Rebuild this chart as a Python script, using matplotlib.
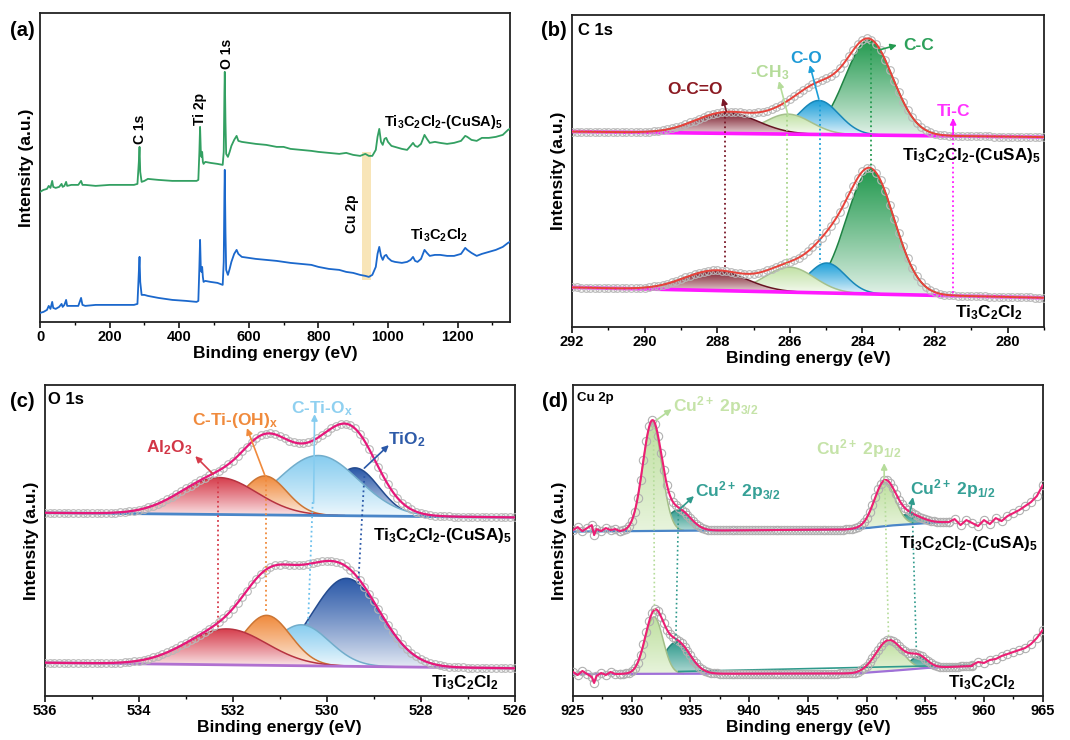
import numpy as np
import matplotlib
matplotlib.use('Agg')
import matplotlib.pyplot as plt
from matplotlib.colors import to_rgb
from matplotlib.ticker import MultipleLocator
from matplotlib.path import Path

plt.rcParams['font.family'] = ['Liberation Sans', 'DejaVu Sans']
plt.rcParams['font.weight'] = 'bold'
plt.rcParams['axes.labelweight'] = 'bold'
plt.rcParams['mathtext.fontset'] = 'custom'
plt.rcParams['mathtext.rm'] = 'Liberation Sans:bold'
plt.rcParams['mathtext.bf'] = 'Liberation Sans:bold'
plt.rcParams['mathtext.it'] = 'Liberation Sans:bold'

# ---------------- DATA ----------------
# (a) survey spectra (arbitrary intensity units)
survey_x = [0, 10, 20, 25, 30, 35, 38, 45, 55, 62, 65, 70, 75, 78, 90, 110, 118, 122, 130, 160,
            200, 240, 270, 280, 284, 286, 288, 292, 300, 310, 340, 380, 420, 450, 455, 458, 460,
            462, 464, 466, 468, 470, 475, 490, 510, 525, 528, 530, 531, 533, 535, 540, 545, 550,
            558, 565, 570, 580, 600, 620, 650, 680, 700, 720, 750, 780, 800, 830, 860, 880, 900,
            920, 935, 945, 955, 965, 970, 975, 980, 985, 990, 995, 1000, 1010, 1020, 1040, 1055,
            1065, 1072, 1078, 1085, 1095, 1105, 1112, 1120, 1135, 1150, 1170, 1190, 1210, 1222,
            1228, 1240, 1255, 1270, 1290, 1310, 1330, 1345, 1350]
survey_cusa = [130, 132, 133, 136, 134, 141, 135, 134, 135, 138, 135, 136, 140, 136, 137, 137, 141,
               137, 137, 136, 137, 137, 137, 138, 160, 175, 150, 140, 141, 143, 142, 141, 141, 141,
               142, 170, 195, 172, 165, 170, 160, 158, 160, 159, 158, 157, 170, 230, 250, 200, 168,
               165, 170, 176, 182, 186, 181, 180, 179, 178, 177, 175, 175, 173, 172, 171, 170, 169,
               168, 169, 167, 166, 168, 166, 166, 172, 185, 193, 180, 177, 183, 184, 180, 176, 175,
               173, 172, 176, 179, 176, 175, 178, 187, 183, 179, 180, 179, 178, 179, 181, 186, 185,
               182, 181, 184, 184, 185, 187, 192, 193]
survey_bare = [9, 10, 12, 16, 13, 20, 14, 13, 15, 18, 15, 17, 22, 16, 16, 16, 24, 17, 16, 17,
               17, 17, 17, 18, 50, 65, 40, 27, 27, 26, 24, 22, 21, 20, 21, 55, 82, 55, 50, 55, 45,
               40, 41, 40, 39, 37, 60, 130, 152, 90, 52, 47, 53, 60, 68, 72, 68, 65, 64, 63, 62, 61,
               60, 59, 58, 57, 55, 53, 52, 50, 49, 47, 46, 45, 47, 55, 68, 75, 66, 62, 66, 67, 64,
               61, 60, 59, 60, 62, 65, 61, 60, 63, 72, 69, 66, 67, 67, 66, 66, 68, 74, 72, 69, 66,
               68, 70, 72, 75, 79, 80]
cu_band_x = [926, 951]
cu_band_y = [42, 170]

# (b) C 1s fitted components: O-C=O, -CH3, C-O, C-C
c1s_colors = ['#7a1828', '#c2e2a6', '#1c9fd9', '#249a50']
c1s_top_center = [287.75, 286.05, 285.2, 283.82]
c1s_top_height = [21, 20, 34, 95]
c1s_top_fwhm = [2.0, 1.5, 1.3, 1.55]
c1s_bot_center = [288.05, 286.0, 284.98, 283.78]
c1s_bot_height = [20, 25, 30, 124]
c1s_bot_fwhm = [2.0, 1.6, 1.2, 1.55]
c1s_base_x = [292, 279]
c1s_top_base = [195.5, 190.0]
c1s_bot_base = [39.7, 29.3]

# (c) O 1s fitted components: Al2O3, C-Ti-(OH)x, C-Ti-Ox, TiO2
o1s_colors = ['#d63c4b', '#f08a3c', '#86ccef', '#2a58a8']
o1s_top_center = [532.3, 531.32, 530.18, 529.4]
o1s_top_height = [37, 39, 60, 48]
o1s_top_fwhm = [1.9, 1.1, 2.0, 1.2]
o1s_bot_center = [532.13, 531.28, 530.54, 529.58]
o1s_bot_height = [36, 50, 41, 88]
o1s_bot_fwhm = [2.0, 1.2, 1.4, 1.7]
o1s_base_x = [536, 526]
o1s_top_base = [183.3, 178.7]
o1s_bot_base = [33.3, 27.7]

# (d) Cu 2p fitted components: 2p3/2, 2p3/2 (second), 2p1/2, 2p1/2 (second)
cu_colors = ['#bfe0a0', '#2f9a8c', '#bfe0a0', '#2f9a8c']
cu_top_center = [931.75, 933.98, 951.54, 953.5]
cu_top_height = [109, 21, 44, 10]
cu_top_fwhm = [1.9, 2.4, 2.1, 2.6]
cu_bot_center = [931.9, 933.84, 951.9, 954.4]
cu_bot_height = [57, 32, 31, 12]
cu_bot_fwhm = [1.8, 2.6, 2.6, 1.8]
cu_top_base_x = [925, 948, 950, 952, 955, 957]
cu_top_base_y = [164.5, 166.5, 168, 170.5, 173, 174]
cu_bot_base_x = [925, 949, 952, 955, 959]
cu_bot_base_y = [22, 22.5, 25, 28, 30]
cu_top_raw_left_x = [925.0, 925.4, 925.8, 926.2, 926.6, 926.8, 927.0, 927.4, 927.8, 928.2, 928.6, 929.0]
cu_top_raw_left_y = [166, 169, 165, 168, 171, 161, 167, 165, 168, 166, 167, 165]
cu_top_raw_right_x = [957.0, 957.5, 958.0, 958.5, 959.0, 959.5, 960.0, 960.5, 961.0, 961.5, 962.0,
                      962.5, 963.0, 963.5, 964.0, 964.5, 965.0]
cu_top_raw_right_y = [174, 177, 171, 176, 173, 170, 176, 172, 178, 175, 180, 183, 186, 190, 194, 200, 211]
cu_bot_raw_left_x = [925.0, 925.4, 925.8, 926.2, 926.6, 926.8, 927.0, 927.4, 927.8, 928.2, 928.6, 929.0]
cu_bot_raw_left_y = [24, 21, 25, 22, 19, 13, 20, 23, 21, 24, 22, 22]
cu_bot_raw_right_x = [959.0, 959.5, 960.0, 960.5, 961.0, 961.5, 962.0, 962.5, 963.0, 963.5, 964.0, 964.5, 965.0]
cu_bot_raw_right_y = [31, 34, 33, 36, 37, 40, 42, 44, 46, 48, 52, 58, 66]
cu_bot_teal_x = [934, 959]
cu_bot_teal_y = [24.5, 31]

# ---------------- HELPERS ----------------
def gauss(x, c, h, w):
    return h * np.exp(-4 * np.log(2) * (x - c) ** 2 / w ** 2)

def grad_fill(ax, x, base, top, color, z, lo=0.08):
    rgb = np.array(to_rgb(color))
    n = 200
    f = np.linspace(lo, 1.0, n) ** 0.85
    img = (1 - f)[:, None, None] + f[:, None, None] * rgb[None, None, :]
    img = np.repeat(img, 2, axis=1)
    im = ax.imshow(img, extent=[x.min(), x.max(), base.min(), top.max()], origin='lower',
                   aspect='auto', zorder=z, interpolation='bilinear')
    verts = np.concatenate([np.column_stack([x, top]), np.column_stack([x[::-1], base[::-1]])])
    im.set_clip_path(Path(verts), transform=ax.transData)
    ax.plot(x, top, color=rgb * 0.85, lw=1.1, zorder=z + 0.1)

def draw_fit(ax, x, base, centers, heights, widths, colors, order, lo=0.08):
    env = base.copy()
    for c, h, w in zip(centers, heights, widths):
        env = env + gauss(x, c, h, w)
    for k, i in enumerate(order):
        comp = gauss(x, centers[i], heights[i], widths[i])
        m = comp > 0.004 * heights[i]
        grad_fill(ax, x[m], base[m], base[m] + comp[m], colors[i], 2 + k * 0.5, lo)
    return env

def arrow(ax, start, end, color):
    ax.annotate('', xy=end, xytext=start,
                arrowprops=dict(arrowstyle='-|>', color=color, lw=1.2, mutation_scale=9,
                                shrinkA=0, shrinkB=0), zorder=8)

def style(ax, xlim, ylim, major, minor):
    ax.set_xlim(*xlim)
    ax.set_ylim(*ylim)
    ax.set_yticks([])
    ax.xaxis.set_major_locator(MultipleLocator(major))
    ax.xaxis.set_minor_locator(MultipleLocator(minor))
    ax.tick_params(axis='x', which='major', direction='out', length=4, width=1.1,
                   labelsize=10.5, pad=2)
    ax.tick_params(axis='x', which='minor', direction='out', length=2.5, width=1)
    for lab in ax.get_xticklabels():
        lab.set_fontweight('bold')
    for s in ax.spines.values():
        s.set_linewidth(1.3)
        s.set_color('#222222')
    ax.set_xlabel('Binding energy (eV)', fontsize=12.5, labelpad=1)
    ax.set_ylabel('Intensity (a.u.)', fontsize=12.5, labelpad=4)

L_CUSA = r'Ti$_\mathbf{3}$C$_\mathbf{2}$Cl$_\mathbf{2}$-(CuSA)$_\mathbf{5}$'
L_BARE = r'Ti$_\mathbf{3}$C$_\mathbf{2}$Cl$_\mathbf{2}$'

fig = plt.figure(figsize=(10.7, 7.4), dpi=100)
ax_a = fig.add_axes([0.0374, 0.565, 0.439, 0.4176])
ax_b = fig.add_axes([0.5346, 0.558, 0.441, 0.4216])
ax_c = fig.add_axes([0.042, 0.0595, 0.439, 0.42])
ax_d = fig.add_axes([0.5355, 0.0595, 0.439, 0.42])

fig.text(0.009, 0.959, '(a)', fontsize=14.5, fontweight='bold', va='center')
fig.text(0.5056, 0.959, '(b)', fontsize=14.5, fontweight='bold', va='center')
fig.text(0.009, 0.457, '(c)', fontsize=14.5, fontweight='bold', va='center')
fig.text(0.5065, 0.457, '(d)', fontsize=14.5, fontweight='bold', va='center')

# ---------------- (a) ----------------
ax = ax_a
ax.fill_between(cu_band_x, cu_band_y[0], cu_band_y[1], color='#f7dfa6', alpha=0.8, lw=0, zorder=1)
ax.plot(survey_x, survey_cusa, color='#33a062', lw=1.3, zorder=3)
ax.plot(survey_x, survey_bare, color='#1b68cc', lw=1.3, zorder=3)
ax.text(287, 178, 'C 1s', rotation=90, ha='center', va='bottom', fontsize=10)
ax.text(459, 197, 'Ti 2p', rotation=90, ha='center', va='bottom', fontsize=10)
ax.text(536, 253, 'O 1s', rotation=90, ha='center', va='bottom', fontsize=10)
ax.text(897, 108, 'Cu 2p', rotation=90, ha='center', va='center', fontsize=10)
ax.text(990, 200, L_CUSA, ha='left', va='center', fontsize=10.5)
ax.text(1064, 87, L_BARE, ha='left', va='center', fontsize=10.5)
style(ax, (0, 1350), (0, 309), 200, 100)

# ---------------- (b) ----------------
ax = ax_b
xb = np.linspace(279, 292, 521)
for centers, heights, widths, bvals in [
        (c1s_top_center, c1s_top_height, c1s_top_fwhm, c1s_top_base),
        (c1s_bot_center, c1s_bot_height, c1s_bot_fwhm, c1s_bot_base)]:
    base = np.interp(xb, c1s_base_x[::-1], bvals[::-1])
    env = draw_fit(ax, xb, base, centers, heights, widths, c1s_colors, [3, 2, 1, 0])
    ax.plot(xb, base, color='#ff19ff', lw=2.6, zorder=4)
    ax.plot(xb[::5], env[::5], 'o', mfc='none', mec='#b8b8b8', ms=5.5, mew=0.8, zorder=5)
    ax.plot(xb, env, color='#e8423a', lw=1.4, zorder=6)
ax.plot([287.78, 287.78], [215, 58.7], ls=':', color='#7a1828', lw=1.3, zorder=7)
ax.plot([286.07, 286.07], [212, 61], ls=':', color='#a8d48a', lw=1.3, zorder=7)
ax.plot([285.18, 285.18], [227, 64], ls=':', color='#1c9fd9', lw=1.3, zorder=7)
ax.plot([283.75, 283.75], [283, 157], ls=':', color='#249a50', lw=1.3, zorder=7)
ax.plot([281.5, 281.5], [208, 30], ls=':', color='#ff19ff', lw=1.3, zorder=7)
arrow(ax, (287.75, 216), (287.85, 229), '#7a1828')
arrow(ax, (286.05, 212), (286.3, 246), '#b5dc9a')
arrow(ax, (285.2, 228), (285.45, 262), '#1c9fd9')
arrow(ax, (283.55, 277), (283.05, 282), '#249a50')
arrow(ax, (281.5, 193), (281.5, 209), '#ff19ff')
ax.text(288.6, 238, 'O-C=O', color='#8b1a22', ha='center', va='center', fontsize=12.5, zorder=9)
ax.text(286.55, 254, r'-CH$_\mathbf{3}$', color='#b5dc9a', ha='center', va='center', fontsize=12.5, zorder=9)
ax.text(285.55, 269, 'C-O', color='#1e9ad6', ha='center', va='center', fontsize=12.5, zorder=9)
ax.text(282.45, 282, 'C-C', color='#2ca05a', ha='center', va='center', fontsize=12.5, zorder=9)
ax.text(281.5, 216, 'Ti-C', color='#ff33ff', ha='center', va='center', fontsize=12.5, zorder=9)
ax.text(279.1, 172, L_CUSA, ha='right', va='center', fontsize=12.3, zorder=9)
ax.text(279.6, 14, L_BARE, ha='right', va='center', fontsize=12.3, zorder=9)
ax.text(0.012, 0.975, 'C 1s', transform=ax.transAxes, ha='left', va='top', fontsize=12)
style(ax, (292, 279), (0, 312), 2, 1)

# ---------------- (c) ----------------
ax = ax_c
xc = np.linspace(526, 536, 401)
for centers, heights, widths, bvals, bcol in [
        (o1s_top_center, o1s_top_height, o1s_top_fwhm, o1s_top_base, '#4a86c8'),
        (o1s_bot_center, o1s_bot_height, o1s_bot_fwhm, o1s_bot_base, '#b070d0')]:
    base = np.interp(xc, o1s_base_x[::-1], bvals[::-1])
    env = draw_fit(ax, xc, base, centers, heights, widths, o1s_colors, [3, 2, 1, 0])
    ax.plot(xc, base, color=bcol, lw=2.0, zorder=4)
    ax.plot(xc[::4], env[::4], 'o', mfc='none', mec='#b8b8b8', ms=5.5, mew=0.8, zorder=5)
    ax.plot(xc, env, color='#e6177a', lw=1.6, zorder=6)
ax.plot([532.31, 532.31], [219, 68], ls=':', color='#d63c4b', lw=1.3, zorder=7)
ax.plot([531.3, 531.3], [221, 83], ls=':', color='#f08a3c', lw=1.3, zorder=7)
ax.plot([530.3, 530.4], [194, 71], ls=':', color='#6cc0ec', lw=1.3, zorder=7)
ax.plot([529.2, 529.33], [220, 112], ls=':', color='#2a58a8', lw=1.3, zorder=7)
arrow(ax, (532.42, 222), (532.8, 240), '#d63c4b')
arrow(ax, (531.32, 221), (531.7, 268), '#f08a3c')
arrow(ax, (530.28, 193), (530.26, 282), '#86ccef')
arrow(ax, (529.2, 228), (528.68, 251), '#2a58a8')
ax.text(533.35, 248, r'Al$_\mathbf{2}$O$_\mathbf{3}$', color='#d23646', ha='center', va='center', fontsize=12.5, zorder=9)
ax.text(531.95, 276, r'C-Ti-(OH)$_\mathbf{x}$', color='#f08a3c', ha='center', va='center', fontsize=12.5, zorder=9)
ax.text(530.1, 288, r'C-Ti-O$_\mathbf{x}$', color='#8fd0f0', ha='center', va='center', fontsize=12.5, zorder=9)
ax.text(528.3, 256, r'TiO$_\mathbf{2}$', color='#2d5aa8', ha='center', va='center', fontsize=12.5, zorder=9)
ax.text(526.07, 161, L_CUSA, ha='right', va='center', fontsize=12.3, zorder=9)
ax.text(526.35, 13, L_BARE, ha='right', va='center', fontsize=12.3, zorder=9)
ax.text(0.007, 0.977, 'O 1s', transform=ax.transAxes, ha='left', va='top', fontsize=12)
style(ax, (536, 526), (0, 311), 2, 1)

# ---------------- (d) ----------------
ax = ax_d
for bx, by, centers, heights, widths, xe, rlx, rly, rrx, rry, bcol in [
        (cu_top_base_x, cu_top_base_y, cu_top_center, cu_top_height, cu_top_fwhm, 957.0,
         cu_top_raw_left_x, cu_top_raw_left_y, cu_top_raw_right_x, cu_top_raw_right_y, '#4a86c8'),
        (cu_bot_base_x, cu_bot_base_y, cu_bot_center, cu_bot_height, cu_bot_fwhm, 959.0,
         cu_bot_raw_left_x, cu_bot_raw_left_y, cu_bot_raw_right_x, cu_bot_raw_right_y, '#a070d8')]:
    xd = np.linspace(929, xe, int(round((xe - 929) / 0.05)) + 1)
    xfull = np.linspace(925, xe, int(round((xe - 925) / 0.05)) + 1)
    ax.plot(xfull, np.interp(xfull, bx, by), color=bcol, lw=1.6, zorder=4)
    base = np.interp(xd, bx, by)
    env = draw_fit(ax, xd, base, centers, heights, widths, cu_colors, [1, 3, 0, 2], lo=0.3)
    allx = np.concatenate([rlx, xd, rrx])
    ally = np.concatenate([rly, env, rry])
    ax.plot(np.concatenate([rlx, xd[::5], rrx]), np.concatenate([rly, env[::5], rry]), 'o',
            mfc='none', mec='#b0b0b0', ms=6, mew=0.8, zorder=5)
    ax.plot(allx, ally, color='#ec1f74', lw=1.5, zorder=6)
ax.plot(cu_bot_teal_x, cu_bot_teal_y, color='#2f9a8c', lw=1.2, zorder=4)
ax.plot([931.86, 931.94], [269, 81], ls=':', color='#b5dc9a', lw=1.2, zorder=7)
ax.plot([933.98, 933.75], [186, 51], ls=':', color='#2f9a8c', lw=1.2, zorder=7)
ax.plot([951.54, 951.88], [216, 56], ls=':', color='#b5dc9a', lw=1.2, zorder=7)
ax.plot([953.9, 954.24], [183, 46], ls=':', color='#2f9a8c', lw=1.2, zorder=7)
arrow(ax, (932.1, 276), (933.4, 287), '#b5dc9a')
arrow(ax, (934.1, 187), (935.3, 200), '#2f9a8c')
arrow(ax, (951.5, 218), (951.5, 233), '#b5dc9a')
arrow(ax, (953.7, 183), (953.95, 199), '#2f9a8c')
ax.text(933.55, 291, r'Cu$^\mathbf{2+}$ 2p$_\mathbf{3/2}$', color='#c5e3a8', ha='left', va='center', fontsize=12.5, zorder=9)
ax.text(935.4, 206, r'Cu$^\mathbf{2+}$ 2p$_\mathbf{3/2}$', color='#35a096', ha='left', va='center', fontsize=12.5, zorder=9)
ax.text(945.7, 248, r'Cu$^\mathbf{2+}$ 2p$_\mathbf{1/2}$', color='#c5e3a8', ha='left', va='center', fontsize=12.5, zorder=9)
ax.text(953.67, 208, r'Cu$^\mathbf{2+}$ 2p$_\mathbf{1/2}$', color='#35a096', ha='left', va='center', fontsize=12.5, zorder=9)
ax.text(964.6, 153, L_CUSA, ha='right', va='center', fontsize=12.3, zorder=9)
ax.text(962.7, 13, L_BARE, ha='right', va='center', fontsize=12.3, zorder=9)
ax.text(0.009, 0.977, 'Cu 2p', transform=ax.transAxes, ha='left', va='top', fontsize=9.5)
style(ax, (925, 965), (0, 311), 5, 2.5)

fig.savefig('out.png', dpi=100)
